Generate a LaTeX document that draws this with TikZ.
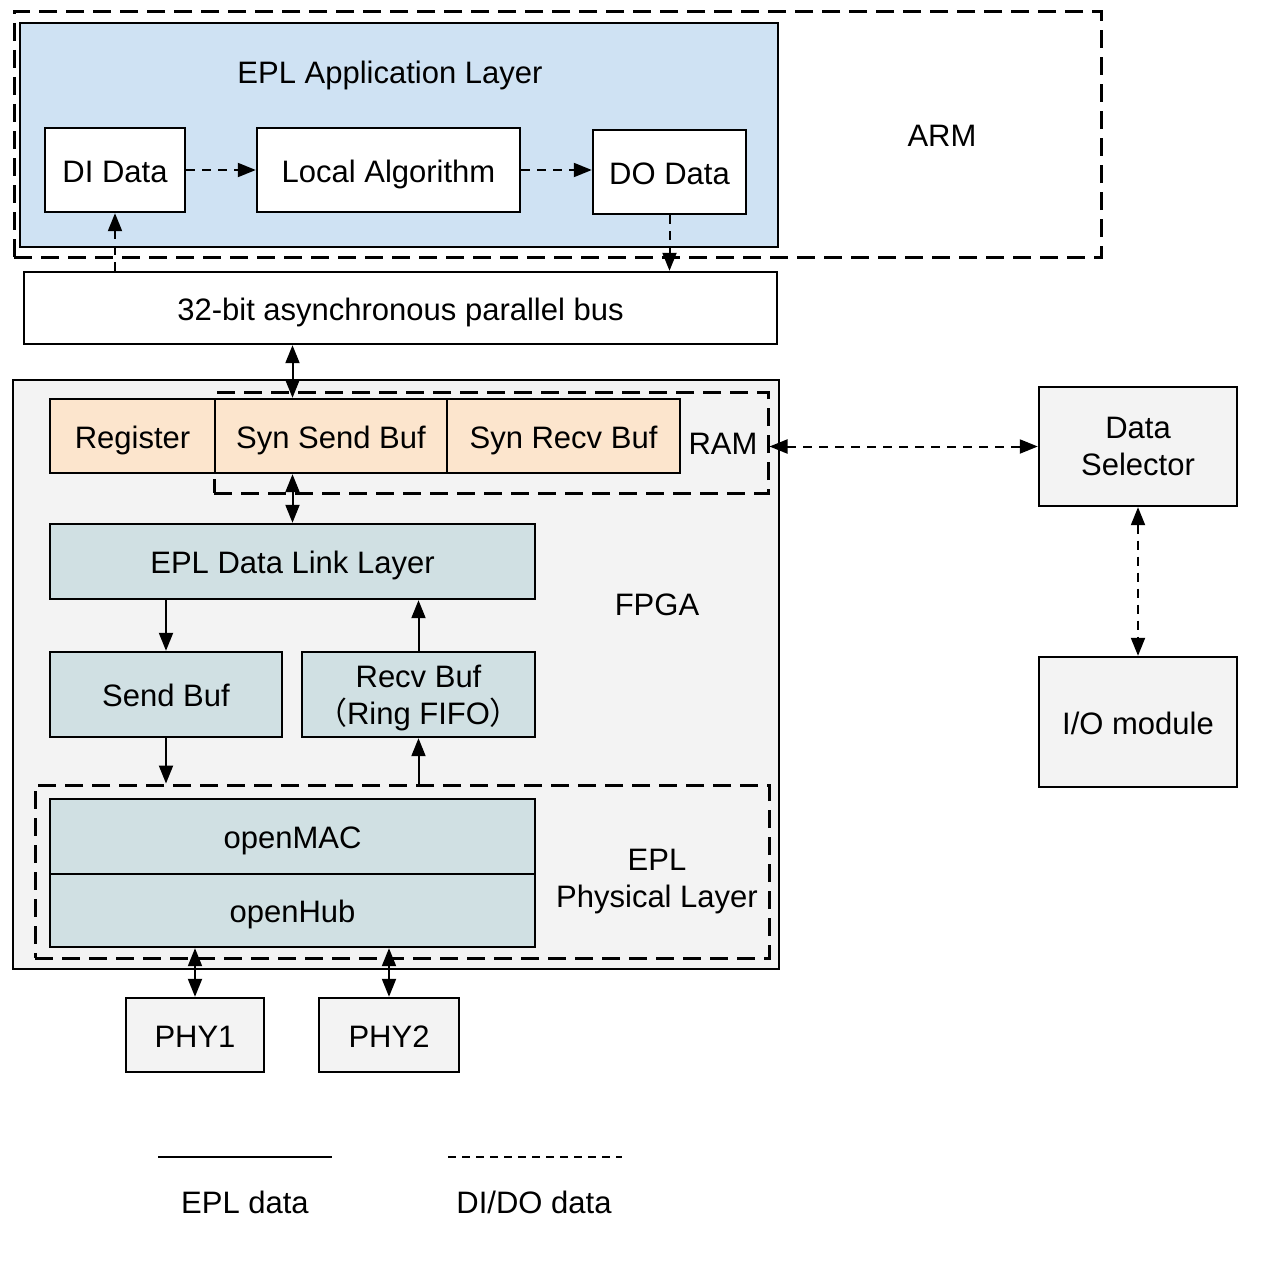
\documentclass[tikz,border=0pt]{standalone}
\usepackage{fontspec}
\setmainfont{Liberation Sans}
\newfontfamily\cjk{Noto Sans CJK SC}
\usetikzlibrary{arrows.meta}
\definecolor{appblue}{HTML}{CFE2F3}
\definecolor{ramorange}{HTML}{FCE5CD}
\definecolor{layerteal}{HTML}{D0E0E3}
\definecolor{chipgray}{HTML}{F3F3F3}
\begin{document}
\begin{tikzpicture}[x=0.5pt, y=-0.5pt, font=\fontsize{15.5}{18.5}\selectfont,
        >={Triangle[length=9pt,width=7pt]},
        blk/.style={draw, line width=1.2pt, inner sep=0pt, align=center, text height=15.2pt, text depth=3.1pt},
        twoline/.style={text height=, text depth=#1},
        grp/.style={draw, line width=1.5pt, dash pattern=on 9pt off 4.5pt, inner sep=0pt},
        epl/.style={line width=1pt},
        dido/.style={line width=1pt, dash pattern=on 4.5pt off 3.5pt}]
        \useasboundingbox (0,0) rectangle (1264,1279);
        % ARM side
        \node[grp, minimum width=543.5pt, minimum height=122.5pt] (arm) at (557.5,134.5) {};
        \node (armlbl) at (942,136) {ARM};
        \node[blk, fill=appblue, minimum width=379pt, minimum height=112pt] (app) at (399,135) {};
        \node (applbl) at (390,75) {EPL Application Layer};
        \node[blk, fill=white, minimum width=70pt, minimum height=42pt] (di) at (115,170) {DI Data};
        \node[blk, fill=white, minimum width=131.5pt, minimum height=42pt] (alg) at (388.5,170) {Local Algorithm};
        \node[blk, fill=white, minimum width=76.5pt, minimum height=42pt] (do) at (669.5,172) {DO Data};
        \node[blk, fill=white, minimum width=376.5pt, minimum height=36pt] (bus) at (400.5,308) {32-bit asynchronous parallel bus};
        % FPGA side
        \node[blk, fill=chipgray, minimum width=383pt, minimum height=294.5pt] (fpga) at (396,674.5) {};
        \node (fpgalbl) at (657,605) {FPGA};
        \node[grp, minimum width=277pt, minimum height=50.5pt] (ram) at (491,442.5) {};
        \node (ramlbl) at (723,444) {RAM};
        \node[blk, fill=ramorange, minimum width=82.5pt, minimum height=37pt] (reg) at (132.5,436) {Register};
        \node[blk, fill=ramorange, minimum width=116pt, minimum height=37pt] (ssend) at (331,436) {Syn Send Buf};
        \node[blk, fill=ramorange, minimum width=116.5pt, minimum height=37pt] (srecv) at (563.5,436) {Syn Recv Buf};
        \node[blk, fill=layerteal, minimum width=242.5pt, minimum height=37.5pt] (dll) at (292.5,561.5) {EPL Data Link Layer};
        \node[blk, fill=layerteal, minimum width=116pt, minimum height=42.5pt] (sbuf) at (166,694.5) {Send Buf};
        \node[blk, twoline=-1pt, fill=layerteal, minimum width=116.5pt, minimum height=42.5pt] (rbuf) at (418.5,694.5) {Recv Buf\\{\cjk （}Ring FIFO{\cjk ）}};
        \node[grp, minimum width=367pt, minimum height=86.5pt] (phys) at (402,871.5) {};
        \node[align=center] (physlbl) at (657,882) {EPL\\Physical Layer};
        \node[blk, fill=layerteal, minimum width=242.5pt, minimum height=37.5pt] (mac) at (292.5,836.5) {openMAC};
        \node[blk, fill=layerteal, minimum width=242.5pt, minimum height=36.5pt] (hub) at (292.5,910.5) {openHub};
        \node[blk, fill=chipgray, minimum width=69pt, minimum height=37pt] (phy1) at (195,1035) {PHY1};
        \node[blk, fill=chipgray, minimum width=70pt, minimum height=37pt] (phy2) at (389,1035) {PHY2};
        % IO side
        \node[blk, twoline=-5pt, fill=chipgray, minimum width=99pt, minimum height=59.5pt] (sel) at (1138,446.5) {Data\\Selector};
        \node[blk, fill=chipgray, minimum width=99pt, minimum height=65pt] (io) at (1138,722) {I/O module};
        % DI/DO data
        \draw[dido, ->] (di.east) -- (alg.west);
        \draw[dido, ->] (alg.east) -- (alg.east -| do.west);
        \draw[dido, ->] (di.south |- bus.north) -- (di.south);
        \draw[dido, ->] (do.south) -- (do.south |- bus.north);
        \draw[dido, <->] (ram.east |- sel.west) -- (sel.west);
        \draw[dido, <->] (sel.south) -- (io.north);
        % EPL data
        \draw[epl, <->] (bus.south -| dll.north) -- (ssend.north -| dll.north);
        \draw[epl, <->] (ssend.south -| dll.north) -- (dll.north);
        \draw[epl, ->] (dll.south -| sbuf.north) -- (sbuf.north);
        \draw[epl, ->] (rbuf.north) -- (rbuf.north |- dll.south);
        \draw[epl, ->] (sbuf.south) -- (sbuf.south |- phys.north);
        \draw[epl, ->] (rbuf.south |- phys.north) -- (rbuf.south);
        \draw[epl, <->] (phy1.north |- hub.south) -- (phy1.north);
        \draw[epl, <->] (phy2.north |- hub.south) -- (phy2.north);
        % legend
        \coordinate (eplA) at (158,1157);
        \coordinate (eplB) at (332,1157);
        \coordinate (didoA) at (448,1157);
        \coordinate (didoB) at (622,1157);
        \draw[line width=0.7pt] (eplA) -- (eplB);
        \draw[line width=0.7pt, dash pattern=on 4pt off 3pt] (didoA) -- (didoB);
        \node (epllbl) at (245,1202) {EPL data};
        \node (didolbl) at (534,1202) {DI/DO data};
\end{tikzpicture}
\end{document}
